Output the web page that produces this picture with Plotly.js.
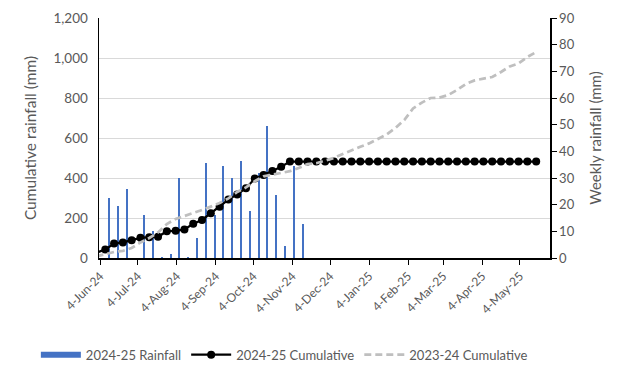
<!DOCTYPE html>
<html>
<head>
<meta charset="utf-8">
<script src="https://cdn.plot.ly/plotly-3.0.1.min.js"></script>
<style>html,body{margin:0;padding:0;background:#fff;}#chart{width:628px;height:380px;}</style>
</head>
<body>
<div id="chart"></div>
<script>
// Weekly rainfall 2024-25 (mm), right axis
var weekDates = ["2024-06-04","2024-06-11","2024-06-18","2024-06-25","2024-07-02","2024-07-09","2024-07-16","2024-07-23","2024-07-30","2024-08-06","2024-08-13","2024-08-20","2024-08-27","2024-09-03","2024-09-10","2024-09-17","2024-09-24","2024-10-01","2024-10-08","2024-10-15","2024-10-22","2024-10-29","2024-11-05","2024-11-12"];
var weeklyRain = [0, 22.5, 19.5, 25.8, 0, 16, 10, 0.3, 1.5, 30, 0.3, 7.6, 35.8, 16, 34.4, 30, 36.2, 17.6, 31.9, 49.4, 23.8, 4.5, 34.5, 12.6];

// Cumulative series dates (left axis)
var cumDates = ["2024-06-01","2024-06-08","2024-06-15","2024-06-22","2024-06-29","2024-07-06","2024-07-13","2024-07-20","2024-07-27","2024-08-03","2024-08-10","2024-08-17","2024-08-24","2024-08-31","2024-09-07","2024-09-14","2024-09-21","2024-09-28","2024-10-05","2024-10-12","2024-10-19","2024-10-26","2024-11-02","2024-11-09","2024-11-16","2024-11-23","2024-11-30","2024-12-07","2024-12-14","2024-12-21","2024-12-28","2025-01-04","2025-01-11","2025-01-18","2025-01-25","2025-02-01","2025-02-08","2025-02-15","2025-02-22","2025-03-01","2025-03-08","2025-03-15","2025-03-22","2025-03-29","2025-04-05","2025-04-12","2025-04-19","2025-04-26","2025-05-03","2025-05-10","2025-05-17"];
var cum2425 = [27, 42, 72, 78, 89, 101, 104, 106, 134, 136, 143, 171, 190, 224, 256, 292, 318, 349, 397, 415, 435, 456, 482, 482, 482, 482, 482, 482, 482, 482, 482, 482, 482, 482, 482, 482, 482, 482, 482, 482, 482, 482, 482, 482, 482, 482, 482, 482, 482, 482, 482];
var cum2324 = [8, 20, 30, 36, 50, 78, 100, 128, 170, 195, 210, 223, 240, 257, 275, 298, 330, 353, 384, 408, 416, 424, 434, 450, 470, 474, 486, 500, 520, 540, 556, 573, 594, 618, 650, 690, 748, 777, 800, 802, 815, 840, 870, 888, 897, 905, 930, 958, 973, 1005, 1030];

var seriesNames = ["2024-25 Rainfall", "2024-25 Cumulative", "2023-24 Cumulative"];
var leftTitle = "Cumulative rainfall (mm)";
var rightTitle = "Weekly rainfall (mm)";

var FONT = "Lato, 'Open Sans', sans-serif";
var GREY = "#595959";
var DAY = 86400000;

var traces = [
  {
    type: "bar", x: weekDates, y: weeklyRain, yaxis: "y", xaxis: "x",
    marker: {color: "#4472C4", line: {width: 0}}, width: 1.6 * DAY,
    showlegend: false, hoverinfo: "x+y", name: seriesNames[0]
  },
  {
    type: "scatter", mode: "lines", x: [null], y: [null], yaxis: "y",
    line: {color: "#4472C4", width: 6}, name: seriesNames[0], showlegend: true
  },
  {
    type: "scatter", mode: "lines+markers", x: cumDates, y: cum2425, yaxis: "y2",
    line: {color: "#000000", width: 2.25}, marker: {color: "#000000", size: 8},
    name: seriesNames[1], cliponaxis: false
  },
  {
    type: "scatter", mode: "lines", x: cumDates, y: cum2324, yaxis: "y2",
    line: {color: "#BFBFBF", width: 2.75, dash: "7px,4px"},
    name: seriesNames[2]
  }
];

var layout = {
  width: 628, height: 380,
  margin: {l: 99, r: 78, t: 18, b: 120.5, pad: 0},
  paper_bgcolor: "#ffffff", plot_bgcolor: "#ffffff",
  font: {family: FONT, color: GREY, size: 12},
  bargap: 0,
  xaxis: {
    type: "date", range: ["2024-06-03", "2025-05-28"],
    tick0: "2024-06-04", dtick: "M1", tickformat: "%-d-%b-%y", tickangle: -45,
    showline: true, linecolor: "#000000", linewidth: 1.5,
    ticks: "outside", ticklen: 5, tickcolor: "#000000", tickwidth: 1,
    showgrid: false, zeroline: false, tickfont: {size: 12, color: GREY}, automargin: false
  },
  yaxis: {
    side: "right", range: [0, 90], dtick: 10, tick0: 0,
    showline: true, linecolor: "#000000", linewidth: 1.5,
    ticks: "outside", ticklen: 5, tickcolor: "#000000",
    showgrid: false, zeroline: false,
    tickfont: {size: 13, color: GREY},
    title: {text: rightTitle, font: {size: 15, color: GREY}, standoff: 17},
    automargin: false
  },
  yaxis2: {
    overlaying: "y", side: "left", range: [0, 1200], dtick: 200, tick0: 0,
    tickformat: ",d",
    showline: true, linecolor: "#000000", linewidth: 1.5,
    ticks: "", showgrid: true, gridcolor: "#D9D9D9", gridwidth: 1, zeroline: false,
    tickfont: {size: 13.5, color: GREY},
    ticklabelstandoff: 7,
    title: {text: leftTitle, font: {size: 15.5, color: GREY}, standoff: 13},
    automargin: false
  },
  legend: {
    orientation: "h", x: -0.14, xanchor: "left", y: -0.397, yanchor: "middle",
    font: {size: 13, color: GREY}, itemwidth: 40, bgcolor: "rgba(0,0,0,0)",
    traceorder: "normal"
  },
  showlegend: true
};

Plotly.newPlot("chart", traces, layout, {displayModeBar: false, staticPlot: true});
</script>
</body>
</html>
